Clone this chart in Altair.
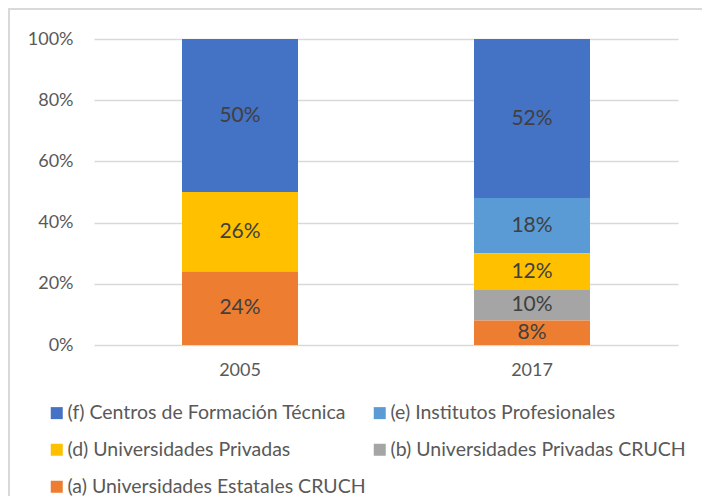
import altair as alt
import pandas as pd

years = ["2005", "2017"]
series = [
    "(f) Centros de Formación Técnica",
    "(e) Institutos Profesionales",
    "(d) Universidades Privadas",
    "(b) Universidades Privadas CRUCH",
    "(a) Universidades Estatales CRUCH",
]
colors = ["#4472C4", "#5B9BD5", "#FFC000", "#A5A5A5", "#ED7D31"]
stack_order = [4, 3, 2, 1, 0]  # (a) at bottom, (f) on top

f_vals = [50, 52]
e_vals = [0, 18]
d_vals = [26, 12]
b_vals = [0, 10]
a_vals = [24, 8]
all_vals = [f_vals, e_vals, d_vals, b_vals, a_vals]

rows = []
for s, o, vals in zip(series, stack_order, all_vals):
    for y, v in zip(years, vals):
        rows.append({"year": y, "series": s, "ord": o, "value": v})
df = pd.DataFrame(rows)

FONT = "Lato"

base = alt.Chart(df).transform_filter("datum.value > 0").transform_stack(
    stack="value", groupby=["year"], sort=[alt.SortField("ord", order="ascending")],
    as_=["y0", "y1"]
).transform_calculate(ymid="(datum.y0 + datum.y1) / 2", lab="datum.value + '%'")

xenc = alt.X("year:N", title=None, scale=alt.Scale(paddingInner=0, paddingOuter=0),
             axis=alt.Axis(labelAngle=0, ticks=False, domain=False, labelPadding=16,
                           labelFontSize=18, labelColor="#595959", labelFont=FONT))

bars = base.mark_bar(size=116).encode(
    x=xenc,
    y=alt.Y("y0:Q", title=None, scale=alt.Scale(domain=[0, 100], nice=False),
            axis=alt.Axis(values=[0, 20, 40, 60, 80, 100], labelExpr="datum.value + '%'",
                          ticks=False, domain=False, labelPadding=21, grid=True,
                          gridColor="#D9D9D9", gridWidth=1.5,
                          labelFontSize=18, labelColor="#595959", labelFont=FONT)),
    y2="y1:Q",
    color=alt.Color("series:N", scale=alt.Scale(domain=series, range=colors),
                    legend=alt.Legend(title=None, orient="none", legendX=-47, legendY=364,
                                      direction="horizontal",
                                      columns=2, symbolType="square", symbolSize=144,
                                      symbolStrokeWidth=0, labelFontSize=19.5,
                                      labelColor="#595959", labelFont=FONT,
                                      labelOffset=1, rowPadding=16, columnPadding=4,
                                      padding=0, labelLimit=400)),
)

texts = base.mark_text(fontSize=21, font=FONT, color="#404040", baseline="middle").encode(
    x=alt.X("year:N"),
    y=alt.Y("ymid:Q"),
    text="lab:N",
)

border = alt.Chart(alt.Data(values=[{}])).mark_rect(
    fill=None, stroke="#D9D9D9", strokeWidth=2
).encode(
    x=alt.value(-85), x2=alt.value(612), y=alt.value(-30), y2=alt.value(600)
)

chart = alt.layer(bars, texts, border).properties(
    width=584, height=306,
    autosize=alt.AutoSizeParams(type="none"),
    padding={"left": 86, "top": 31, "right": 24, "bottom": 151},
).configure_view(stroke=None)

chart.save("out.html", embed_options={"renderer": "svg", "actions": False})
